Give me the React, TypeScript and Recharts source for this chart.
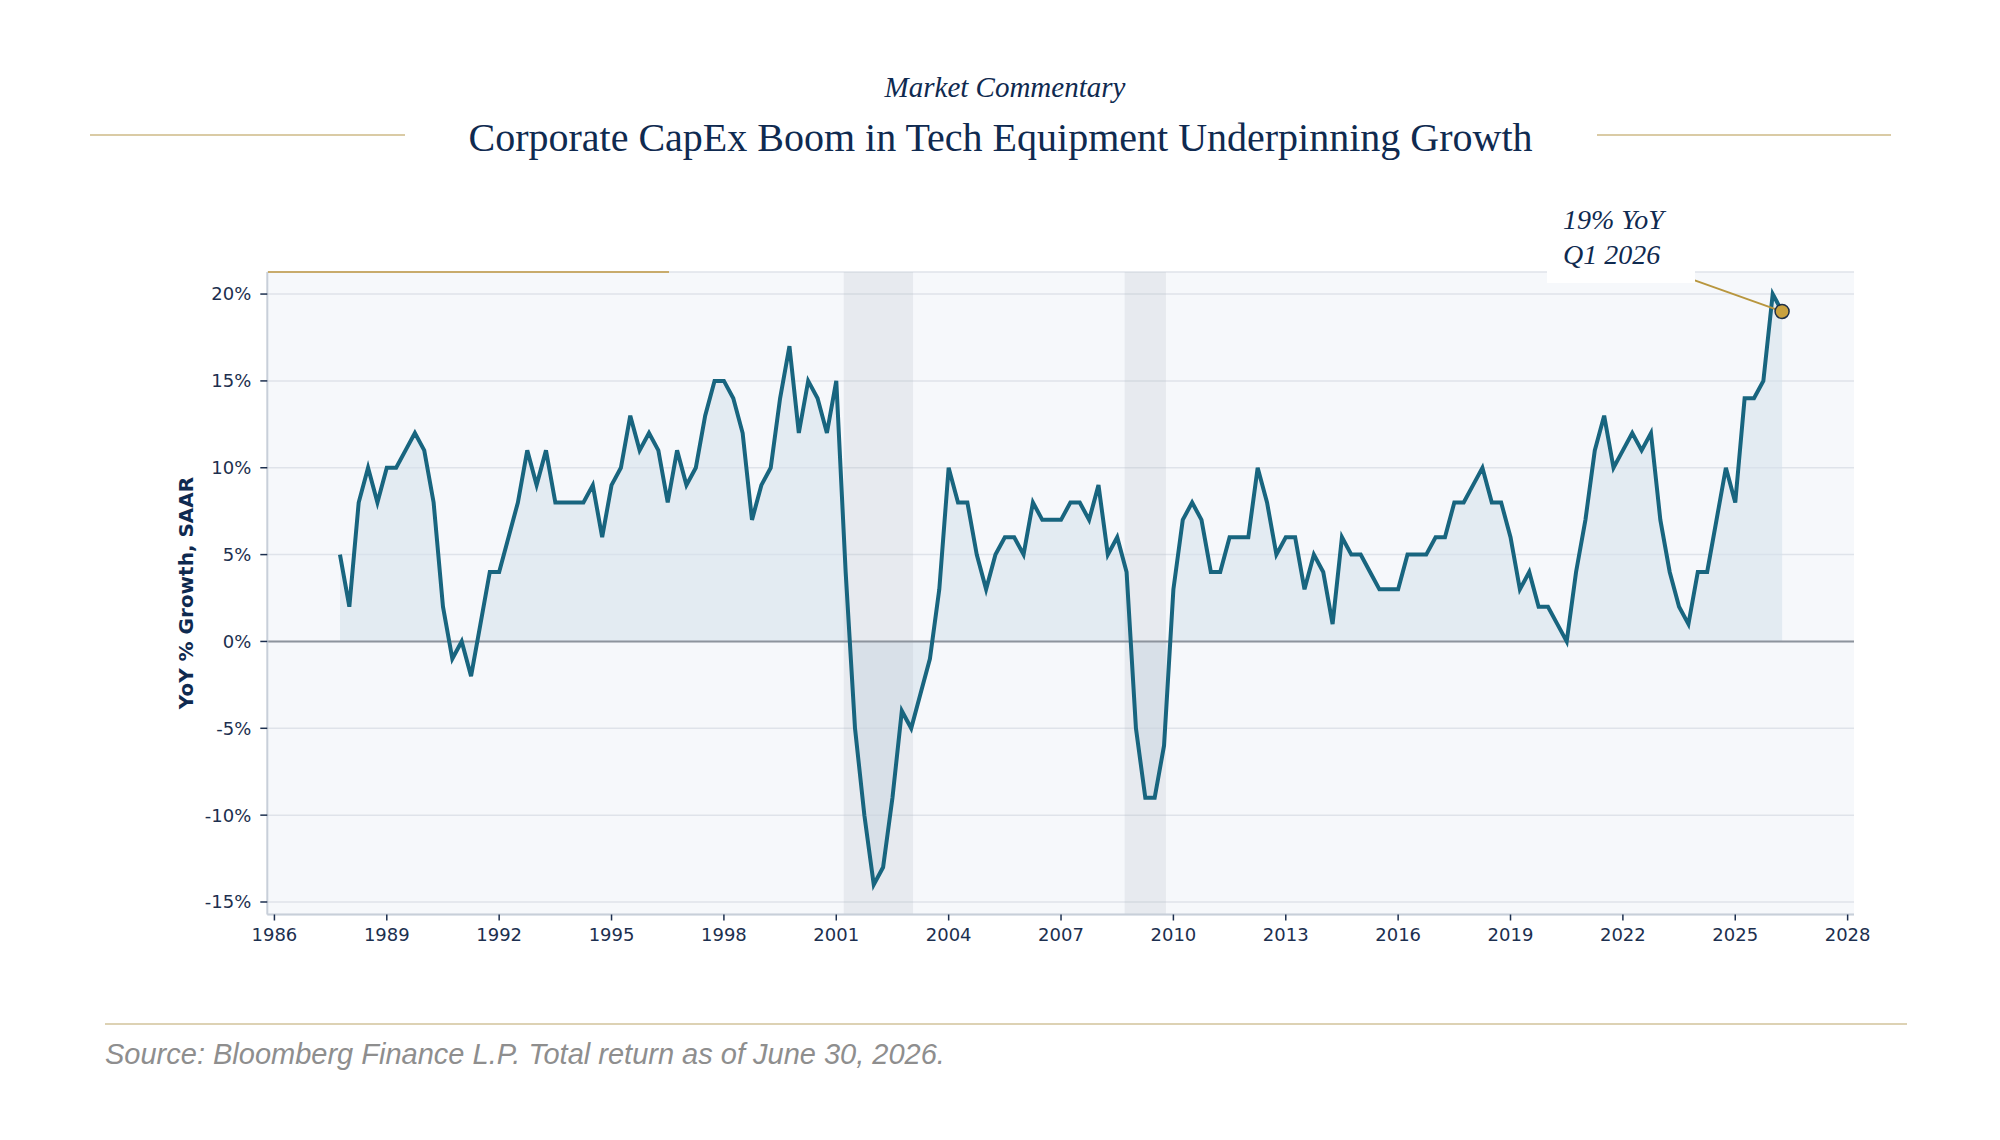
import React from 'react';
import {
  ComposedChart,
  Area,
  Line,
  XAxis,
  YAxis,
  CartesianGrid,
  ReferenceArea,
  ReferenceLine,
  ReferenceDot,
} from 'recharts';

// Quarterly YoY % growth, SAAR (first observation Q4 1987)
const firstQuarter = 1987.75;
const growth = [
  5, 2, 8, 10, 8, 10, 10, 11, 12, 11,
  8, 2, -1, 0, -2, 1, 4, 4, 6, 8,
  11, 9, 11, 8, 8, 8, 8, 9, 6, 9,
  10, 13, 11, 12, 11, 8, 11, 9, 10, 13,
  15, 15, 14, 12, 7, 9, 10, 14, 17, 12,
  15, 14, 12, 15, 4, -5, -10, -14, -13, -9,
  -4, -5, -3, -1, 3, 10, 8, 8, 5, 3,
  5, 6, 6, 5, 8, 7, 7, 7, 8, 8,
  7, 9, 5, 6, 4, -5, -9, -9, -6, 3,
  7, 8, 7, 4, 4, 6, 6, 6, 10, 8,
  5, 6, 6, 3, 5, 4, 1, 6, 5, 5,
  4, 3, 3, 3, 5, 5, 5, 6, 6, 8,
  8, 9, 10, 8, 8, 6, 3, 4, 2, 2,
  1, 0, 4, 7, 11, 13, 10, 11, 12, 11,
  12, 7, 4, 2, 1, 4, 4, 7, 10, 8,
  14, 14, 15, 20, 19,
];

const xTicks = [1986, 1989, 1992, 1995, 1998, 2001, 2004, 2007, 2010, 2013, 2016, 2019, 2022, 2025, 2028];
const yTicks = [-15, -10, -5, 0, 5, 10, 15, 20];
const recessions = [
  [2001.2, 2003.05],
  [2008.7, 2009.8],
];
const highlight = { t: 2026.25, v: 19 };
const leaderStart = { t: 2023.9, v: 20.8 };

const data = growth.map((v, i) => ({ t: firstQuarter + i * 0.25, v }));

const NAVY = '#0f2a50';
const TICK = '#1c2f4f';
const GOLD_LIGHT = '#dacba5';

const Y_AXIS_W = 80;
const X_AXIS_H = 60;

export default function App() {
  return (
    <div
      style={{
        position: 'absolute',
        left: 0,
        top: 0,
        width: 2000,
        height: 1140,
        background: '#ffffff',
        overflow: 'hidden',
      }}
    >
      {/* Header */}
      <div
        style={{
          position: 'absolute',
          left: 0,
          width: 2010,
          top: 72.7,
          textAlign: 'center',
          fontFamily: '"Liberation Serif", serif',
          fontStyle: 'italic',
          fontSize: 29,
          lineHeight: '29px',
          color: NAVY,
          whiteSpace: 'nowrap',
        }}
      >
        Market Commentary
      </div>
      <div
        style={{
          position: 'absolute',
          left: 0,
          width: 2001,
          top: 117.5,
          textAlign: 'center',
          fontFamily: '"Liberation Serif", serif',
          fontSize: 40,
          lineHeight: '40px',
          color: NAVY,
          whiteSpace: 'nowrap',
        }}
      >
        Corporate CapEx Boom in Tech Equipment Underpinning Growth
      </div>
      <div style={{ position: 'absolute', left: 90, top: 134, width: 315, height: 2, background: GOLD_LIGHT }} />
      <div style={{ position: 'absolute', left: 1597, top: 134, width: 294, height: 2, background: GOLD_LIGHT }} />

      {/* Chart */}
      <div style={{ position: 'absolute', left: 0, top: 0 }}>
        <ComposedChart
          width={2000}
          height={1140}
          data={data}
          margin={{ top: 272, right: 146, bottom: 225.5 - X_AXIS_H, left: 267.3 - Y_AXIS_W }}
        >
          <CartesianGrid
            horizontal
            vertical={false}
            fill="#f6f8fb"
            fillOpacity={1}
            stroke="#dfe3ea"
            strokeWidth={1.5}
          />
          <XAxis
            type="number"
            dataKey="t"
            domain={[1985.81, 2028.17]}
            ticks={xTicks}
            allowDataOverflow
            height={X_AXIS_H}
            tickSize={6}
            tickMargin={8}
            axisLine={{ stroke: '#c8cfd9', strokeWidth: 2 }}
            tickLine={{ stroke: TICK, strokeWidth: 1.5 }}
            tick={{ fill: TICK, fontSize: 18, fontFamily: '"DejaVu Sans", sans-serif' }}
          />
          <YAxis
            type="number"
            domain={[-15.72, 21.27]}
            ticks={yTicks}
            allowDataOverflow
            width={Y_AXIS_W}
            tickSize={7}
            tickMargin={9}
            tickFormatter={(v: number) => `${v}%`}
            axisLine={{ stroke: '#c8cfd9', strokeWidth: 2 }}
            tickLine={{ stroke: TICK, strokeWidth: 1.5 }}
            tick={{ fill: TICK, fontSize: 18, fontFamily: '"DejaVu Sans", sans-serif' }}
          />
          <Area
            type="linear"
            dataKey="v"
            baseValue={0}
            stroke="none"
            fill="#d4e0eb"
            fillOpacity={0.55}
            isAnimationActive={false}
          />
          {recessions.map(([a, b], i) => (
            <ReferenceArea
              key={i}
              x1={a}
              x2={b}
              fill="#b0bac6"
              fillOpacity={0.22}
              stroke="none"
            />
          ))}
          <ReferenceLine y={0} stroke="#8d949d" strokeWidth={2} />
          <Line
            type="linear"
            dataKey="v"
            stroke="#18657f"
            strokeWidth={4}
            dot={false}
            isAnimationActive={false}
          />
          <ReferenceLine
            segment={[
              { x: leaderStart.t, y: leaderStart.v },
              { x: highlight.t, y: highlight.v },
            ]}
            stroke="#b8963e"
            strokeWidth={2}
          />
          <ReferenceDot
            x={highlight.t}
            y={highlight.v}
            r={7}
            fill="#c9a13f"
            stroke="#1e2f48"
            strokeWidth={1.5}
          />
        </ComposedChart>
      </div>

      {/* Gold accent on top of plot */}
      <div style={{ position: 'absolute', left: 268, top: 271, width: 401, height: 2, background: '#c8ab6c' }} />

      {/* Y axis title */}
      <div
        style={{
          position: 'absolute',
          left: 186 - 150,
          top: 593 - 12,
          width: 300,
          height: 24,
          lineHeight: '24px',
          textAlign: 'center',
          transform: 'rotate(-90deg)',
          fontFamily: '"DejaVu Sans", sans-serif',
          fontWeight: 'bold',
          fontSize: 20,
          color: NAVY,
          whiteSpace: 'nowrap',
        }}
      >
        YoY % Growth, SAAR
      </div>

      {/* Annotation box */}
      <div
        style={{
          position: 'absolute',
          left: 1547,
          top: 190,
          width: 148,
          height: 93,
          background: '#ffffff',
        }}
      >
        <div
          style={{
            position: 'absolute',
            left: 16,
            top: 15.5,
            fontFamily: '"Liberation Serif", serif',
            fontStyle: 'italic',
            fontSize: 28,
            lineHeight: '28px',
            color: NAVY,
            whiteSpace: 'nowrap',
          }}
        >
          19% YoY
        </div>
        <div
          style={{
            position: 'absolute',
            left: 16,
            top: 50.5,
            fontFamily: '"Liberation Serif", serif',
            fontStyle: 'italic',
            fontSize: 28,
            lineHeight: '28px',
            color: NAVY,
            whiteSpace: 'nowrap',
          }}
        >
          Q1 2026
        </div>
      </div>

      {/* Footer */}
      <div style={{ position: 'absolute', left: 105, top: 1023, width: 1802, height: 1.5, background: '#ddd2b4' }} />
      <div
        style={{
          position: 'absolute',
          left: 105,
          top: 1039.5,
          fontFamily: '"Liberation Sans", Arial, sans-serif',
          fontStyle: 'italic',
          fontSize: 29,
          lineHeight: '29px',
          color: '#8e8e8e',
          whiteSpace: 'nowrap',
        }}
      >
        Source: Bloomberg Finance L.P. Total return as of June 30, 2026.
      </div>
    </div>
  );
}
